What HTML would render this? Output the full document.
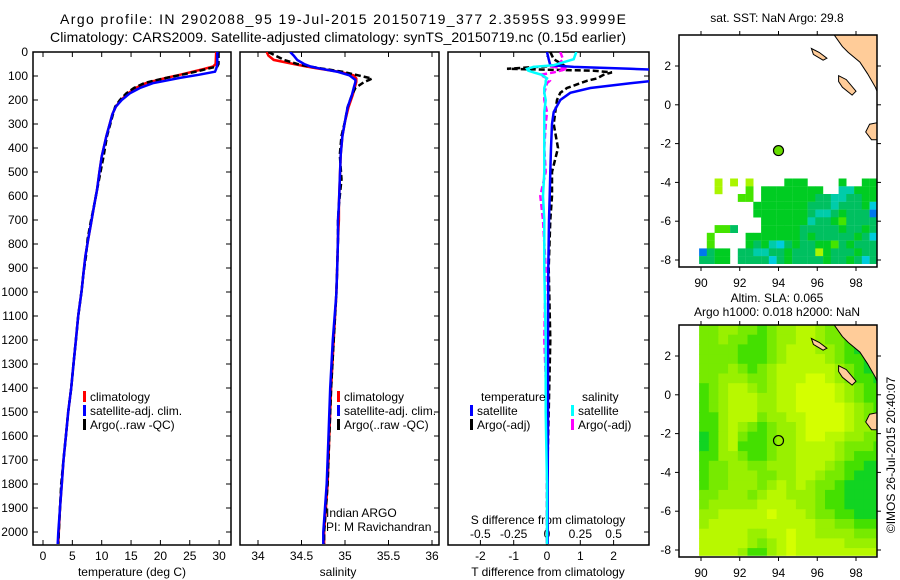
<!DOCTYPE html>
<html><head><meta charset="utf-8"><style>
body{margin:0;background:#fff}
svg{display:block;font-family:"Liberation Sans",sans-serif}
</style></head><body>
<svg id="fig" width="900" height="580" viewBox="0 0 900 580">
<defs>
<clipPath id="c1"><rect x="33" y="52" width="198" height="493"/></clipPath>
<clipPath id="c2"><rect x="240" y="52" width="199" height="493"/></clipPath>
<clipPath id="c3"><rect x="448" y="52" width="201" height="493"/></clipPath>
<clipPath id="m1"><rect x="679" y="35" width="198" height="232"/></clipPath>
<clipPath id="m2"><rect x="679" y="325" width="198" height="232"/></clipPath>
</defs>
<text x="343" y="24" font-size="14" text-anchor="middle" textLength="566">Argo profile: IN 2902088_95 19-Jul-2015 20150719_377 2.3595S 93.9999E</text>
<text x="338" y="42" font-size="14" text-anchor="middle" textLength="576">Climatology: CARS2009. Satellite-adjusted climatology: synTS_20150719.nc (0.15d earlier)</text>
<g id="g"></g>
</svg>
<script>
// ---- profile data ----
const tDepth = [0,50,60,70,82,95,108,120,130,150,172,200,228,260,297,350,436,500,575,640,713,780,853,920,992,1100,1200,1300,1400,1500,1600,1700,1800,1900,2000,2050];
const tClim  = [29.5,29.4,29,27.5,25.5,23.3,21,19,17.5,15.8,14.5,13.3,12.4,11.8,11.4,10.8,10,9.6,9.2,8.7,8.2,7.7,7.2,6.9,6.6,6.0,5.6,5.2,4.8,4.3,3.9,3.5,3.2,2.9,2.7,2.6];
const tSat   = [29.7,29.7,29.6,29.5,29.3,26.5,23.3,20.8,18.7,16.5,14.8,13.4,12.4,11.8,11.4,10.8,10,9.6,9.2,8.7,8.2,7.7,7.2,6.9,6.6,6.0,5.6,5.2,4.8,4.3,3.9,3.5,3.2,2.9,2.6,2.5];
const tArgo  = [29.9,29.9,29.7,28,26,23.6,21,18.8,17.2,15.5,14.2,13.1,12.3,11.9,11.5,10.9,10.3,9.8,9.2,8.7,8.1,7.6,7.3,6.9,6.6,6.0,5.6,5.2,4.8,4.3,3.9,3.5,3.1,2.9,2.7,2.6];
const sDepth = [0,15,33,50,60,68,83,97,111,116,125,150,178,230,289,350,428,530,636,700,775,900,1011,1200,1400,1600,1800,1900,2000,2050];
const sClim  = [34.10,34.12,34.18,34.41,34.55,34.67,34.94,35.10,35.13,35.13,35.13,35.11,35.09,35.04,35.00,34.97,34.95,34.94,34.93,34.93,34.92,34.91,34.90,34.87,34.84,34.82,34.80,34.78,34.76,34.76];
const sSat   = [34.37,34.41,34.45,34.53,34.60,34.70,34.92,35.05,35.10,35.12,35.12,35.10,35.08,35.03,35.00,34.97,34.95,34.94,34.93,34.92,34.92,34.91,34.90,34.86,34.83,34.81,34.79,34.77,34.75,34.75];
const sArgo  = [34.12,34.20,34.30,34.45,34.58,34.72,34.98,35.15,35.31,35.28,35.22,35.12,35.08,35.03,35.00,34.96,34.94,34.96,34.93,34.92,34.92,34.91,34.90,34.87,34.84,34.82,34.80,34.78,34.76,34.76];
const dDepth = [0,30,55,62,70,78,85,95,110,120,130,150,170,200,250,300,400,500,600,700,900,1200,1500,1800,2050];
const dTSat  = [0.0,0.05,0.1,0.8,2.5,4.0,4.5,4.5,3.8,3.2,2.5,1.3,0.7,0.4,0.2,0.15,0.12,0.1,0.08,0.06,0.04,0.03,0.03,0.02,0.02];
const dTArgo = [0.1,0.2,0.5,-0.3,-1.2,1.4,1.95,1.7,1.5,1.2,1.0,0.6,0.4,0.3,0.25,0.2,0.33,0.15,0.15,0.1,0.05,0.1,0.05,0.0,0.0];
const dSSat  = [0.22,0.20,0.05,-0.10,-0.15,-0.14,-0.10,-0.04,0.0,-0.01,-0.01,-0.02,-0.02,-0.01,-0.02,-0.02,-0.02,-0.02,-0.03,-0.02,-0.02,-0.01,-0.01,0.0,0.0];
const dSArgo = [0.1,0.12,0.08,0.05,0.15,0.1,0.05,-0.05,0.0,0.02,0.0,-0.01,-0.02,-0.02,0.0,-0.01,-0.02,-0.01,-0.05,-0.03,-0.01,-0.02,0.0,0.0,0.0];
// ---- axis tick labels ----
const depthTicks = [0,100,200,300,400,500,600,700,800,900,1000,1100,1200,1300,1400,1500,1600,1700,1800,1900,2000];
const tempTicks = [0,5,10,15,20,25,30];
const salTicks = [34,34.5,35,35.5,36];
const tDiffTicks = [-2,-1,0,1,2];
const sDiffTicks = [-0.5,-0.25,0,0.25,0.5];
const sDiffLabels = ["-0.5","-0.25","0","0.25","0.5"];
const lonTicks = [90,92,94,96,98];
const latTicks = [2,0,-2,-4,-6,-8];
// ---- map data (0.4 deg SST cells from lat -3.8 down, lon 89.9 east) ----
const sstRows = [
"..a.a.a....ccc....c..cc",
"..a...b.cccccccc..eeccc",
".....bb.cccccccddeeddcc",
".......cccccccdddedddcfd",
".......cccccccdeedcdddg",
"........cccccceddcbdddd",
"..bbd...cccccdddddcddcd",
".b....cccccccdcdddddcdf",
".b....cdcefdcddccbdcddd",
"gdcc.ddeeddcdddacdddcdd",
"ddcc.ddddfdcddddcddcdfd"];
const sstColors = {a:"#aaf500",b:"#44e400",c:"#00cc22",d:"#00c060",e:"#00ccaa",f:"#00ccdd",g:"#0077ee"};
// SLA 0.5 deg cells from lat 3.6 down, lon 89.9 east
const slaRows = [
"2233221233443221100","2232211233443221000","2222111234443321000","2222111234444321100",
"2223212344444432100","2233322344455432110","1234432344555543211","1234443344555543211",
"1234443344555554321","1134442334455554322","1134321233455554332","0134211233455443322",
"0134111233444432221","1133211233444432111","1223322333444321100","1223332233443221000",
"1223332343432210000","2233323443332110000","2333334444332110000","3344444544432211000",
"3444444444443322111","4444433445443333222","4444432345444443333","4444311345444444444"];
const slaColors = ["#11d422","#44e000","#77ea00","#99f000","#b8f800","#d4ff00"];
const argoLon = 94.0, argoLat = -2.36;
const coast = [[96.8,3.7],[97.3,3.0],[97.6,2.7],[98.2,2.2],[98.6,1.6],[99.0,0.9],[99.2,0.4],[99.2,3.7]];
const island1 = [[95.7,2.9],[96.1,2.7],[96.5,2.4],[96.3,2.3],[95.8,2.6]];
const island2 = [[97.1,1.5],[97.5,1.3],[98.0,0.7],[97.8,0.5],[97.3,0.9],[97.1,1.2]];
const island3 = [[99.2,-0.9],[98.7,-1.0],[98.5,-1.4],[98.8,-1.8],[99.2,-1.8]];

const NS="http://www.w3.org/2000/svg";
const root=document.getElementById('g');
function mk(tag,attrs,parent){const e=document.createElementNS(NS,tag);for(const k in attrs)e.setAttribute(k,attrs[k]);(parent||root).appendChild(e);return e;}
function txt(x,y,s,size,anchor,parent){const e=mk('text',{x:x,y:y,'font-size':size||12,'text-anchor':anchor||'middle'},parent);e.textContent=s;return e;}
const yD=d=>52+0.24*d;
const xT=t=>43+t*5.87;
const xS=s=>258+(s-34)*87;
const xdT=t=>547+t*33.3;
const xdS=s=>547+s*133.3;
function line(xs,ys,xf,color,dash,clip,name){
  const pts=xs.map((v,i)=>xf(v).toFixed(1)+','+yD(ys[i]).toFixed(1)).join(' ');
  const e=mk('polyline',{points:pts,fill:'none',stroke:color,'stroke-width':2.5,'clip-path':'url(#'+clip+')'});
  if(dash)e.setAttribute('stroke-dasharray',dash);
  
  
}
function frame(x,w,name){
  const r=mk('rect',{x:x,y:52,width:w,height:493,fill:'none',stroke:'#000','stroke-width':1.5});
  
  
}
// panel 1
frame(33,198,'temperature-panel');
depthTicks.forEach(d=>{
  mk('line',{x1:33,x2:38,y1:yD(d),y2:yD(d),stroke:'#000'});
  mk('line',{x1:226,x2:231,y1:yD(d),y2:yD(d),stroke:'#000'});
  const t=txt(28,yD(d)+4,String(d),12,'end');
  
  
});
tempTicks.forEach(v=>{
  mk('line',{x1:xT(v),x2:xT(v),y1:52,y2:57,stroke:'#000'});
  mk('line',{x1:xT(v),x2:xT(v),y1:540,y2:545,stroke:'#000'});
  const t=txt(xT(v),560,String(v));
  
  
});
let at=txt(132,576,'temperature (deg C)');


line(tClim,tDepth,xT,'#f00',null,'c1','temperature-climatology-line');
line(tArgo,tDepth,xT,'#000','6,3','c1','temperature-argo-line');
line(tSat,tDepth,xT,'#00f',null,'c1','temperature-satellite-line');
// panel 2
frame(240,199,'salinity-panel');
depthTicks.forEach(d=>{mk('line',{x1:434,x2:439,y1:yD(d),y2:yD(d),stroke:'#000'});});
salTicks.forEach(v=>{
  mk('line',{x1:xS(v),x2:xS(v),y1:52,y2:57,stroke:'#000'});
  mk('line',{x1:xS(v),x2:xS(v),y1:540,y2:545,stroke:'#000'});
  const t=txt(xS(v),560,String(v));
  
  
});
at=txt(338,576,'salinity');


line(sClim,sDepth,xS,'#f00',null,'c2','salinity-climatology-line');
line(sArgo,sDepth,xS,'#000','6,3','c2','salinity-argo-line');
line(sSat,sDepth,xS,'#00f',null,'c2','salinity-satellite-line');
at=txt(326,517,'Indian ARGO',12,'start');


at=txt(326,531,'PI: M Ravichandran',12,'start');


// panel 3
frame(448,201,'difference-panel');
depthTicks.forEach(d=>{mk('line',{x1:644,x2:649,y1:yD(d),y2:yD(d),stroke:'#000'});});
tDiffTicks.forEach(v=>{
  mk('line',{x1:xdT(v),x2:xdT(v),y1:52,y2:57,stroke:'#000'});
  mk('line',{x1:xdT(v),x2:xdT(v),y1:540,y2:545,stroke:'#000'});
  const t=txt(xdT(v),560,String(v));
  
  
});
sDiffTicks.forEach((v,i)=>{
  const t=txt(xdS(v),538,sDiffLabels[i]);
  
  
});
at=txt(548,524,'S difference from climatology');


at=txt(548,576,'T difference from climatology');


line(dTArgo,dDepth,xdT,'#000','6,3','c3','t-diff-argo-line');
line(dSArgo,dDepth,xdS,'#f0f','6,3','c3','s-diff-argo-line');
line(dTSat,dDepth,xdT,'#00f',null,'c3','t-diff-satellite-line');
line(dSSat,dDepth,xdS,'#0ff',null,'c3','s-diff-satellite-line');
// legends
function legend(x,y,color,label,name){
  mk('rect',{x:x,y:y-10,width:3,height:11,fill:color});
  const t=txt(x+7,y,label,12,'start');
  
  
}
legend(83,401,'#f00','climatology','legend-climatology');
legend(83,415,'#00f','satellite-adj. clim.','legend-satellite-adj');
legend(83,429,'#000','Argo(..raw -QC)','legend-argo');
legend(337,401,'#f00','climatology','legend-sal-climatology');
legend(337,415,'#00f','satellite-adj. clim.','legend-sal-satellite-adj');
legend(337,429,'#000','Argo(..raw -QC)','legend-sal-argo');
at=txt(481,401,'temperature',12,'start');


at=txt(582,401,'salinity',12,'start');


legend(470,415,'#00f','satellite','legend-t-satellite');
legend(470,429,'#000','Argo(-adj)','legend-t-argo');
legend(571,415,'#0ff','satellite','legend-s-satellite');
legend(571,429,'#f0f','Argo(-adj)','legend-s-argo');
// maps
const mx=lon=>701+(lon-90)*19.375;
function mapAxes(top,lat2y,name,clip){
  const my=lat=>lat2y-(lat-2)*19.4;
  const g=mk('g',{});
  
  
  return {g:g,my:my,top:top,clip:clip};
}
function poly(pts,m,fill,name){
  const e=mk('polygon',{points:pts.map(p=>mx(p[0]).toFixed(1)+','+m.my(p[1]).toFixed(1)).join(' '),fill:fill,stroke:'#000','stroke-width':1,'clip-path':'url(#'+m.clip+')'},m.g);
  
  
}
function mapFrame(m){
  mk('rect',{x:679,y:m.top,width:198,height:232,fill:'none',stroke:'#000','stroke-width':1.5},m.g);
  lonTicks.forEach(v=>{
    mk('line',{x1:mx(v),x2:mx(v),y1:m.top,y2:m.top-4,stroke:'#000'},m.g);
    mk('line',{x1:mx(v),x2:mx(v),y1:m.top+232,y2:m.top+236,stroke:'#000'},m.g);
    const t=txt(mx(v),m.top+252,String(v),12,'middle',m.g);
    
    
  });
  latTicks.forEach(v=>{
    mk('line',{x1:675,x2:679,y1:m.my(v),y2:m.my(v),stroke:'#000'},m.g);
    mk('line',{x1:877,x2:881,y1:m.my(v),y2:m.my(v),stroke:'#000'},m.g);
    const t=txt(671,m.my(v)+4,String(v),12,'end',m.g);
    
    
  });
  const c=mk('circle',{cx:mx(argoLon),cy:m.my(argoLat),r:5,fill:m.dotFill,stroke:'#000','stroke-width':1.2},m.g);
  
  
}
// SST map
const m1=mapAxes(35,66,'sst-map','m1');
sstRows.forEach((row,r)=>{
  for(let i=0;i<row.length;i++){const ch=row[i];if(ch==='.')continue;
    const lon=89.9+0.4*i, lat=-3.8-0.4*r;
    const e=mk('rect',{x:mx(lon).toFixed(1),y:m1.my(lat).toFixed(1),width:7.9,height:7.9,fill:sstColors[ch],'clip-path':'url(#m1)'},m1.g);
    
    
  }
});
[coast,island1,island2,island3].forEach(p=>poly(p,m1,'#ffcc99','land'));
m1.dotFill='#66dd00';
mapFrame(m1);
at=txt(777,22,'sat. SST: NaN Argo: 29.8',12);


// SLA map
const m2=mapAxes(325,356,'sla-map','m2');
slaRows.forEach((row,r)=>{
  for(let i=0;i<row.length;i++){
    const lon=89.9+0.5*i, lat=3.6-0.5*r;
    const e=mk('rect',{x:mx(lon).toFixed(1),y:m2.my(lat).toFixed(1),width:10.2,height:10.2,fill:slaColors[+row[i]],'clip-path':'url(#m2)'},m2.g);
    
    
  }
});
mk('rect',{x:679,y:m2.my(-8.3),width:198,height:10,fill:'#fff'},m2.g);
[coast,island1,island2,island3].forEach(p=>poly(p,m2,'#ffcc99','land'));
m2.dotFill='none';
mapFrame(m2);
at=txt(777,302,'Altim. SLA: 0.065',12);


at=txt(777,316,'Argo h1000: 0.018 h2000: NaN',12);


at=txt(0,0,'©IMOS 26-Jul-2015 20:40:07',12,'middle');
at.setAttribute('transform','translate(895,455) rotate(-90)');


</script>
</body></html>
